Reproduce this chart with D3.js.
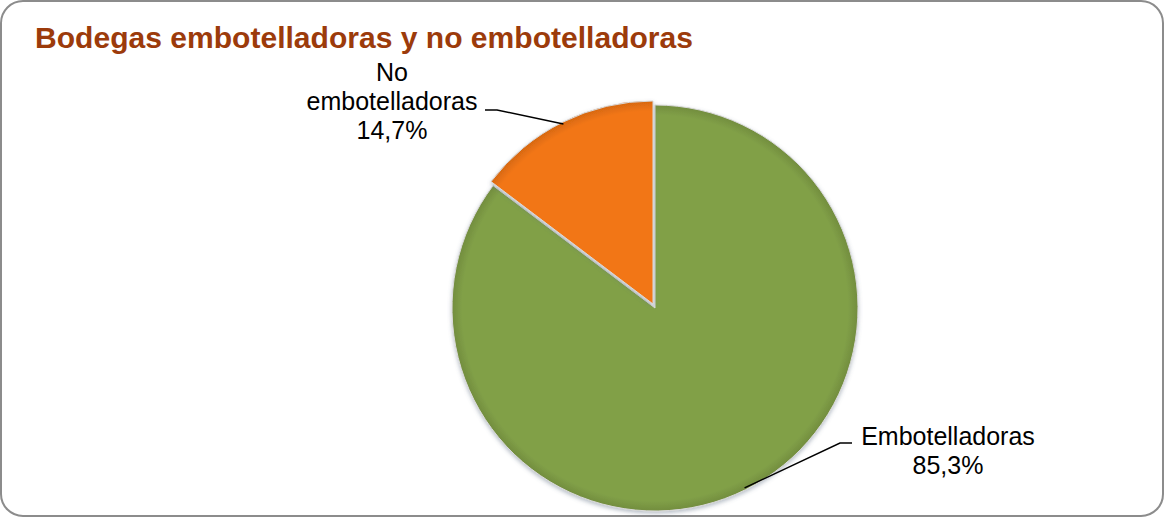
<!DOCTYPE html>
<html>
<head>
<meta charset="utf-8">
<script src="https://cdn.jsdelivr.net/npm/d3@7"></script>
<style>
  html, body { margin: 0; padding: 0; background: #fff; }
  #chart { width: 1165px; height: 518px; }
</style>
</head>
<body>
<div id="chart"></div>
<script>
// Datos del gráfico
const categories = ['Embotelladoras', 'No embotelladoras'];
const labelLines = [['Embotelladoras'], ['No', 'embotelladoras']];
const values = [85.3, 14.7];
const colors = ['#81A047', '#F27613'];
const title = 'Bodegas embotelladoras y no embotelladoras';

const width = 1165, height = 518;
const cx = 655, cy = 308, radius = 203;

const svg = d3.select('#chart').append('svg')
  .attr('width', width)
  .attr('height', height);

const defs = svg.append('defs');

// Gradientes radiales para el efecto de bisel
colors.forEach((c, i) => {
  const g = defs.append('radialGradient')
    .attr('id', 'grad' + i)
    .attr('gradientUnits', 'userSpaceOnUse')
    .attr('cx', 0).attr('cy', 0).attr('r', radius);
  g.append('stop').attr('offset', '0%').attr('stop-color', c);
  g.append('stop').attr('offset', '95%').attr('stop-color', c);
  g.append('stop').attr('offset', '100%').attr('stop-color', d3.color(c).darker(0.35));
});

const shadow = defs.append('filter').attr('id', 'shadow')
  .attr('x', '-10%').attr('y', '-10%').attr('width', '120%').attr('height', '120%');
shadow.append('feDropShadow')
  .attr('dx', 0).attr('dy', 2).attr('stdDeviation', 2)
  .attr('flood-color', '#5a6a80').attr('flood-opacity', 0.45);

// Marco redondeado
svg.append('rect')
  .attr('x', 1).attr('y', 1)
  .attr('width', width - 3).attr('height', height - 3)
  .attr('rx', 22).attr('ry', 22)
  .attr('fill', '#fff')
  .attr('stroke', '#8c8c8c')
  .attr('stroke-width', 2);

// Título
svg.append('text')
  .attr('x', 35).attr('y', 48)
  .attr('font-family', '"Liberation Sans", Arial, sans-serif')
  .attr('font-weight', 'bold')
  .attr('font-size', 29)
  .attr('textLength', 658)
  .attr('lengthAdjust', 'spacingAndGlyphs')
  .attr('fill', '#9C3B0B')
  .text(title);

const data = categories.map((c, i) => ({ name: c, value: values[i], lines: labelLines[i], color: colors[i], idx: i }));

const pie = d3.pie().sort(null).value(d => d.value);
const arcs = pie(data);
const arc = d3.arc().innerRadius(0).outerRadius(radius);

// Desplazamiento de la porción separada
const explode = [0, 4.5];

const g = svg.append('g').attr('transform', `translate(${cx},${cy})`);

g.selectAll('path.slice')
  .data(arcs)
  .enter().append('path')
  .attr('class', 'slice')
  .attr('transform', d => {
    const a = (d.startAngle + d.endAngle) / 2;
    const e = explode[d.data.idx];
    return `translate(${e * Math.sin(a)},${-e * Math.cos(a)})`;
  })
  .attr('d', arc)
  .attr('fill', d => `url(#grad${d.data.idx})`)
  .attr('stroke', '#d9d9d9')
  .attr('stroke-width', 1)
  .attr('filter', 'url(#shadow)');

// Etiquetas y líneas guía
const elbows = [[185, 135], [-158, -198]];
const labelOffsets = [[108, 0], [-105, 0]];
const lineHeight = 29;

arcs.forEach(d => {
  const i = d.data.idx;
  const a = (d.startAngle + d.endAngle) / 2;
  const e = explode[i];
  const r = radius + e - 2;
  const p0 = [r * Math.sin(a), -r * Math.cos(a)];
  const p1 = elbows[i];
  const p2 = [p1[0] + (i === 0 ? 12 : -12), p1[1]];
  g.append('polyline')
    .attr('points', [p0, p1, p2].map(p => p.join(',')).join(' '))
    .attr('fill', 'none')
    .attr('stroke', '#000')
    .attr('stroke-width', 1.5);

  const lines = d.data.lines.concat([d3.format('.1f')(d.data.value).replace('.', ',') + '%']);
  const lx = p1[0] + labelOffsets[i][0];
  const firstY = i === 0 ? p1[1] + 2 : p1[1] - lineHeight;
  const t = g.append('text')
    .attr('font-family', '"Liberation Sans", Arial, sans-serif')
    .attr('font-size', 25)
    .attr('fill', '#000')
    .attr('text-anchor', 'middle');
  lines.forEach((ln, k) => {
    t.append('tspan')
      .attr('x', lx)
      .attr('y', firstY + k * lineHeight)
      .text(ln);
  });
});
</script>
</body>
</html>
